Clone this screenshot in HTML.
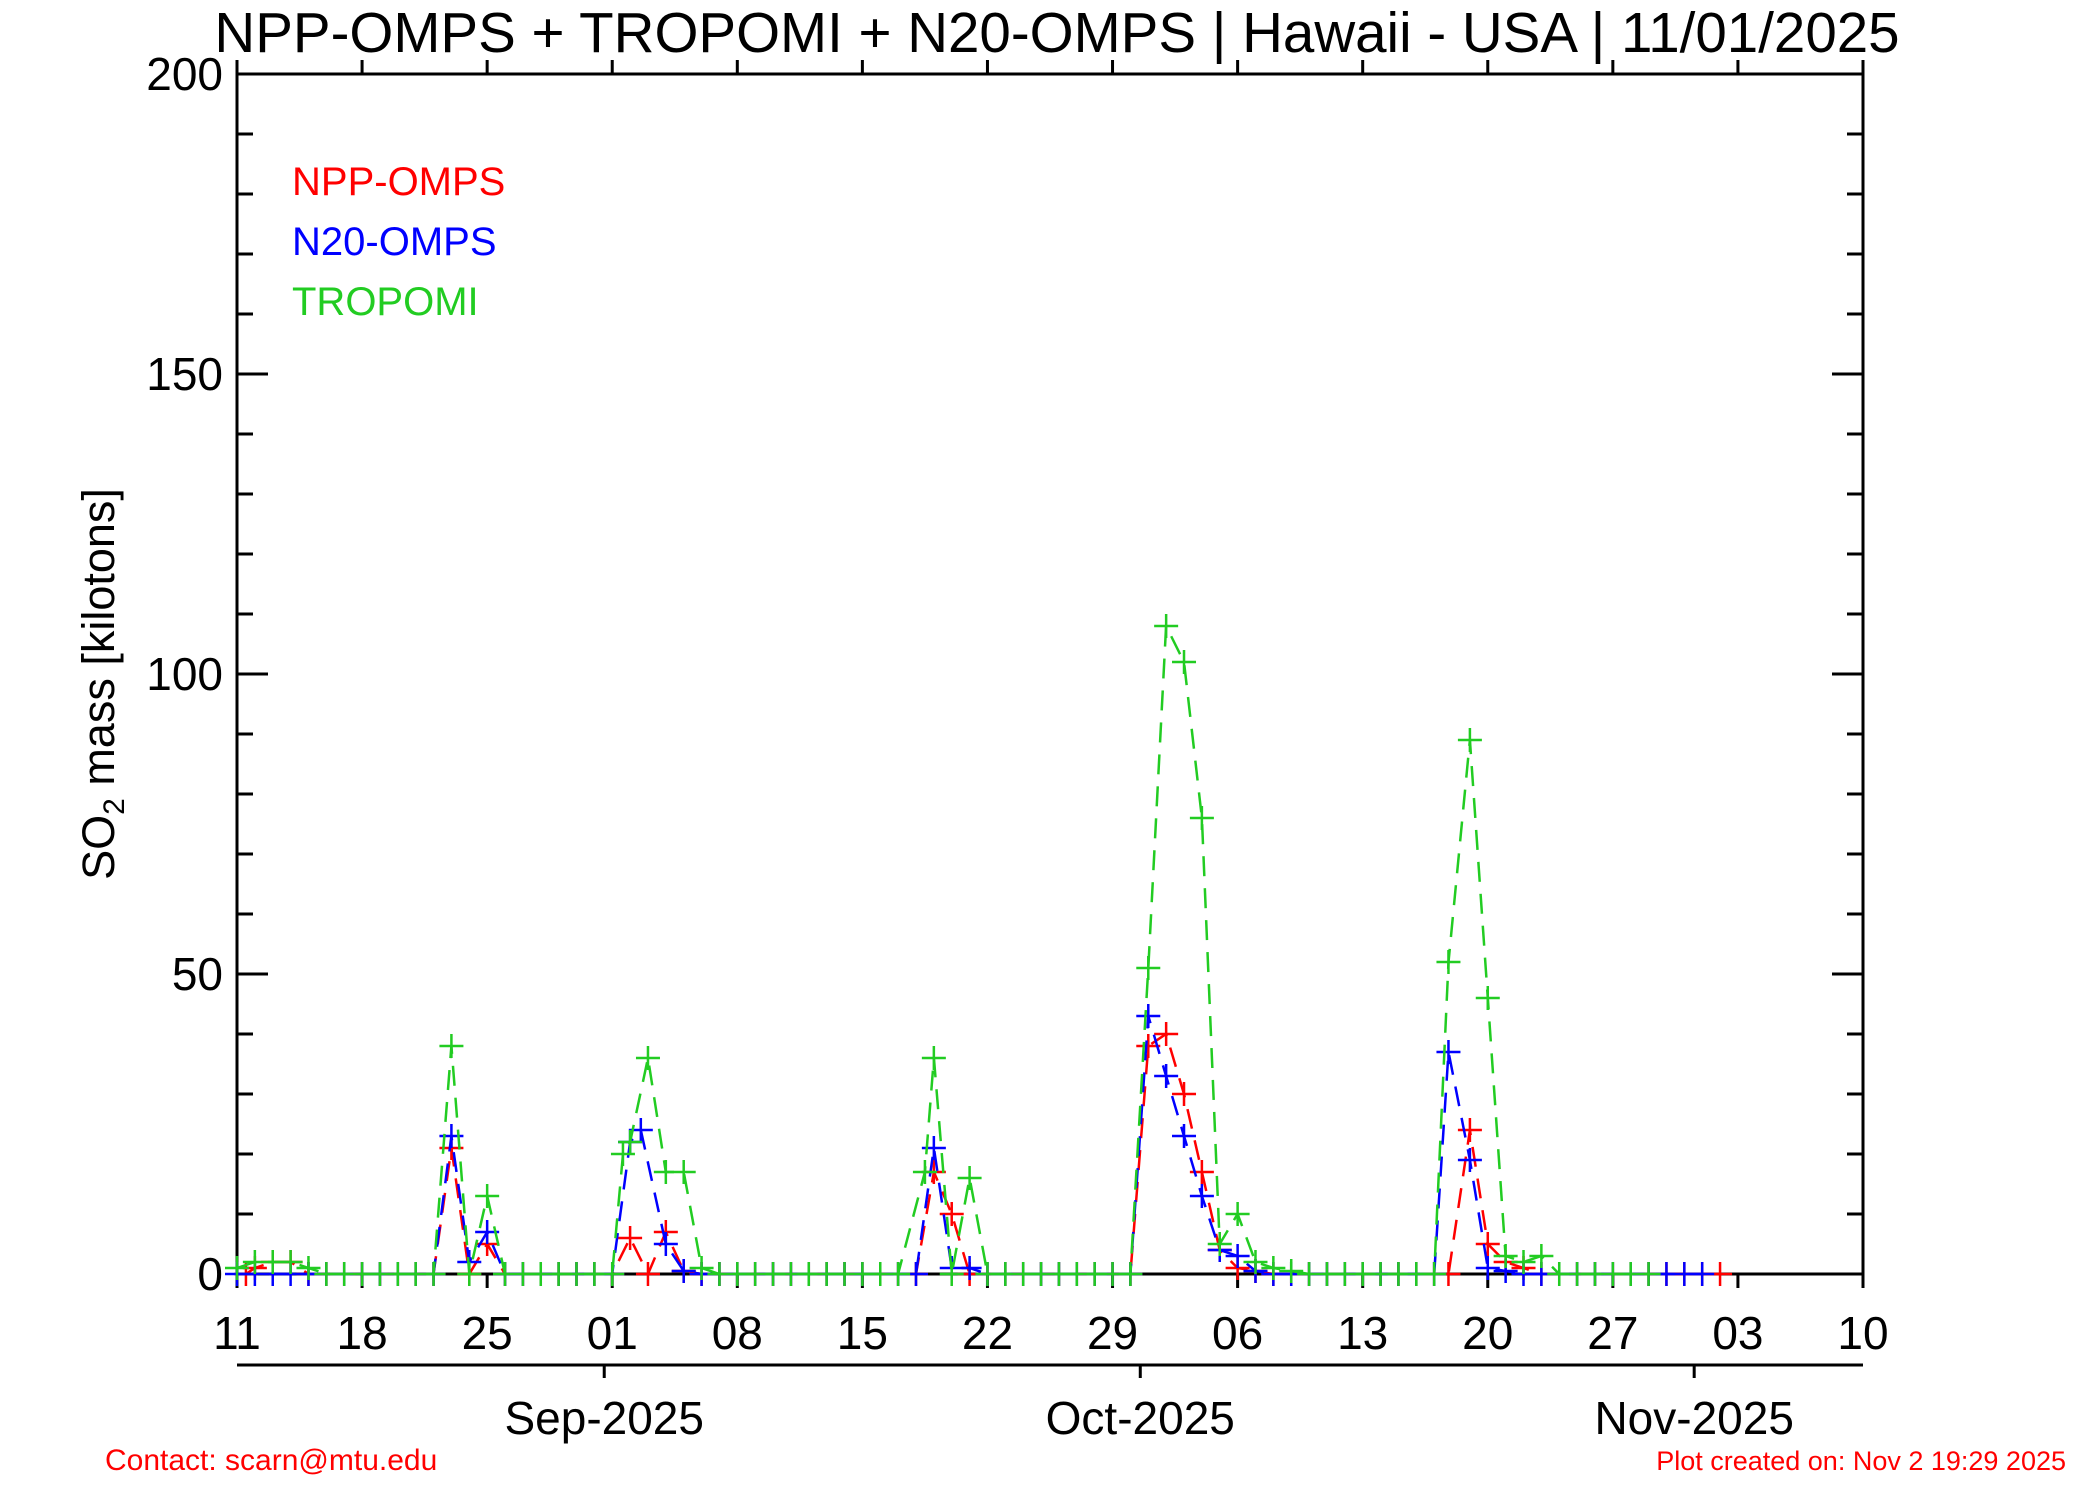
<!DOCTYPE html>
<html><head><meta charset="utf-8"><style>
html,body{margin:0;padding:0;background:#fff;}
svg{display:block;font-family:"Liberation Sans",sans-serif;}
</style></head><body>
<svg id="s" width="2100" height="1500" xmlns="http://www.w3.org/2000/svg">
<rect width="2100" height="1500" fill="#fff"/>
<text x="1057" y="52" font-size="56.5" text-anchor="middle">NPP-OMPS + TROPOMI + N20-OMPS | Hawaii - USA | 11/01/2025</text>
<g id="axes" stroke="#000" stroke-width="3" fill="none"></g>
<g id="lbl" font-size="46" fill="#000"></g>
<text x="292" y="195" font-size="40" fill="#ff0000">NPP-OMPS</text>
<text x="292" y="255" font-size="40" fill="#0000ff">N20-OMPS</text>
<text x="292" y="315" font-size="40" fill="#22cc22">TROPOMI</text>
<text transform="translate(114,684) rotate(-90)" font-size="45" text-anchor="middle">SO<tspan font-size="30" dy="10">2</tspan><tspan dy="-10"> mass [kilotons]</tspan></text>
<text x="105" y="1470" font-size="30" fill="#ff0000">Contact: scarn@mtu.edu</text>
<text x="2066" y="1470" font-size="27" fill="#ff0000" text-anchor="end">Plot created on: Nov  2 19:29 2025</text>
<g id="data" fill="none" stroke-width="2.5"></g>
</svg>
<script>
var L=237,R=1863,T=74,B=1274,PD=(R-L)/91,PV=(B-T)/200;
var ns="http://www.w3.org/2000/svg";
function el(p,t,a,txt){var e=document.createElementNS(ns,t);for(var k in a)e.setAttribute(k,a[k]);if(txt!=null)e.textContent=txt;document.getElementById(p).appendChild(e);return e;}
var d="M"+L+" "+T+"H"+R+"V"+B+"H"+L+"Z";
for(var v=0;v<=200;v+=10){var y=B-v*PV,len=v%50==0?31:16;
 d+="M"+L+" "+y+"h"+len+"M"+R+" "+y+"h"+(-len);
 if(v%50==0)el("lbl","text",{x:223,y:y+16,"text-anchor":"end"},String(v));}
var labs=["11","18","25","01","08","15","22","29","06","13","20","27","03","10"];
for(var i=0;i<14;i++){var x=L+i*7*PD;d+="M"+x+" "+B+"v14M"+x+" "+T+"v-14";
 el("lbl","text",{x:x,y:1349,"text-anchor":"middle"},labs[i]);}
d+="M"+L+" 1365H"+R;
[[21,"Sep-2025"],[51,"Oct-2025"],[82,"Nov-2025"]].forEach(function(m){var x=L+m[0]*PD-8;d+="M"+x+" 1365v13";
 el("lbl","text",{x:x,y:1434,"text-anchor":"middle"},m[1]);});
el("axes","path",{d:d});
function series(pts,maxd,col){
 var all=pts.slice();
 for(var k=0;k<=maxd;k++){var near=pts.some(function(p){return Math.abs(p[0]-k)<0.6});if(!near)all.push([k,0]);}
 all.sort(function(a,b){return a[0]-b[0]});
 var p="";all.forEach(function(q,i){p+=(i?"L":"M")+(L+q[0]*PD).toFixed(1)+" "+(B-q[1]*PV).toFixed(1);});
 el("data","path",{d:p,stroke:col,"stroke-dasharray":"20 12"});
 var m="";all.forEach(function(q){var x=L+q[0]*PD,y=B-q[1]*PV;m+="M"+(x-12)+" "+y+"h24M"+x+" "+(y-12)+"v24";});
 el("data","path",{d:m,stroke:col});
}
series([[0.5,0],[1,1],[2,2],[3,2],[12,21],[13,0],[14,5],[22,6],[23,0],[24,7],[25,0.5],[39,17],[40,10],[41,0],[51,38],[52,40],[53,30],[54,17],[55,4],[56,1],[57,0.5],[67.8,0],[69,24],[70,5],[71,2],[72,1]],83,"#ff0000");
series([[12,23],[13,2],[14,7],[22,22],[22.6,24],[24,5],[25,0.5],[39,21],[40,1],[41,1],[51,43],[52,33],[53,23],[54,13],[55,4],[56,3],[57,0.5],[67.8,37],[69,19],[70,1],[71,0.5]],82,"#0000ff");
series([[0,1],[1,2],[2,2],[3,2],[4,1],[12,38],[13,0],[14,13],[21,0],[21.6,20],[22,22],[23,36],[24,17],[25,17],[26,1],[38.5,17],[39,36],[41,16],[51,51],[52,108],[53,102],[54,76],[55,5],[56,10],[57,2],[58,1],[59,0.5],[67.8,52],[69,89],[70,46],[71,3],[72,2],[73,3],[74,0]],79,"#22cc22");
</script>
</body></html>
